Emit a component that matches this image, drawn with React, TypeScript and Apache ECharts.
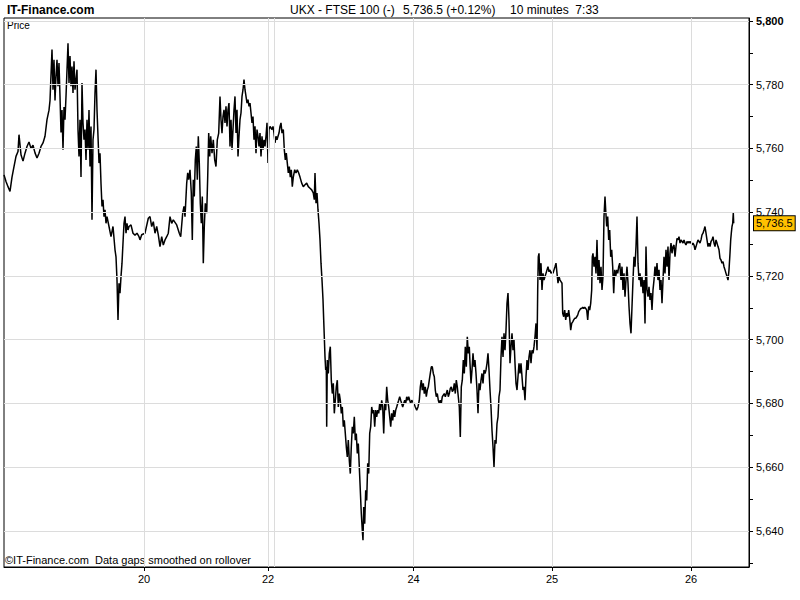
import React, { useEffect, useRef } from 'react';
import * as echarts from 'echarts';

type P = [number, number];

// x = trading time step (one step ≈ one pixel of the source chart), y = FTSE 100 price
const seg19: P[] = [[0,5751.7],[2,5749.6],[4,5748],[6,5746.5],[8,5751],[10,5754.3],[12,5757.5],[14,5759],[15,5764.3],[17,5758],[19,5756],[21,5758.5],[23,5760.6],[25,5762],[27,5760],[29,5761],[31,5758.6],[33,5757],[35,5758.5],[37,5760.6],[39,5761.7],[41,5763.8],[43,5769],[45,5772],[46,5775],[48,5791],[49,5778.4],[50,5787.8],[51,5775],[52,5782.6],[53,5787.8],[54,5779.5],[55,5786.8],[56,5776.3],[57,5765],[58,5772],[59,5759.6],[60,5773],[61,5769],[62,5776.3],[64,5793],[65,5780.5],[66,5789],[67,5779.5],[68,5785.7],[69,5777.4],[70,5787.3],[71,5778.4],[73,5784.7],[74,5765.9],[75,5757.5],[76,5769],[77,5751],[78,5780.5],[79,5768],[80,5762.7],[81,5765.9],[82,5756.4],[83,5769],[84,5759.6],[85,5772],[86,5754.3],[87,5766.9],[88,5737.6],[89,5762.7],[90,5765.9],[91,5777.4],[92,5784.7],[93,5772],[94,5763.8],[95,5755.4],[96,5758.5],[97,5749],[98,5741.8],[99,5743.9],[100,5738.6],[101,5740.7],[102,5736.5],[103,5738.6],[105,5735.5],[107,5732.3],[109,5735.5],[111,5728.2],[112,5726],[113,5718.7],[114,5706.2],[115,5717.7],[116,5714.6],[117,5719.8],[118,5724],[119,5730.3],[120,5736.5],[121,5738.6],[122,5733.4],[123,5736.5],[124,5734.4],[125,5735.5],[127,5736],[129,5733.4],[131,5732.8],[133,5733.4],[135,5732.3],[136,5731.3],[137.7,5732.9]];

const seg20: P[] = [[141,5733.4],[144.3,5738.1],[146,5738.6],[147.7,5735.5],[149.3,5737],[151,5733.4],[152.7,5735.5],[154.3,5732.9],[156,5729.2],[157.7,5732.3],[159.3,5729.7],[161,5731.3],[162.7,5732.3],[164.3,5733.4],[166,5738.6],[167.7,5736.5],[169.3,5737.6],[172.7,5736],[175.3,5733.4],[176.7,5732.3],[178.7,5739.7],[180,5741.8],[181,5738.6],[182.7,5749.1],[183.7,5752.3],[184.7,5750.2],[186,5753.3],[187.3,5746],[188.3,5731.3],[189.3,5750.2],[190.3,5744.9],[191.3,5756.4],[192.3,5760.6],[193.3,5750.2],[194.3,5763.8],[195.3,5755.4],[196.3,5742.8],[197.3,5736.5],[198.3,5744.9],[199.3,5724],[200.3,5735.5],[201.3,5742.8],[202.7,5739.7],[203.7,5751],[204.7,5764.8],[205.7,5757.5],[206.7,5763.8],[208,5758.5],[209.3,5762.7],[210.7,5756.4],[212,5754.3],[213.3,5762.7],[214.7,5764.8],[216,5776.3],[217,5769],[218,5764.8],[219,5770],[220,5772.1],[221,5768],[222,5773.2],[223,5766.9],[224,5772.1],[225,5774.2],[226,5760.6],[227,5769],[228,5759.6],[229,5765.9],[230,5772.1],[231,5776.3],[232,5764.8],[233,5772.1],[234,5757.5],[235,5763.8],[236,5769],[237,5771.1],[238,5776.3],[239,5778.4],[240,5781.6],[241,5778.4],[242,5776.3],[243,5774.2],[244,5775.3],[245,5773.2],[246,5774.2],[247,5771.1],[248,5768],[249,5770],[250,5762.7],[251,5766.9],[252,5758.5],[253,5765.9],[254,5763.8],[255,5760.6],[256,5764.8],[257,5757.5],[258,5763.8],[259,5759.6],[260,5762.7],[261,5760.6],[262,5763.8],[263,5768]];

const seg22: P[] = [[264,5755.4],[265,5765.9],[266,5766.9],[267,5766.4],[268,5765.9],[269,5766.9],[270,5764.8],[271,5761.7],[272,5763.8],[273,5762.7],[274,5763.8],[275,5764.8],[276,5766.9],[277,5768],[278,5764.8],[279.3,5765.9],[280.3,5759.6],[281.3,5756.4],[282.3,5758.5],[283.3,5755.4],[284.3,5752.3],[285.3,5754.3],[286.3,5751],[287.3,5753.3],[288.3,5748],[289.3,5751],[290.7,5753.3],[292,5752.3],[293.3,5753.3],[294.7,5752.3],[296,5751],[297.7,5749.1],[299.3,5748],[301,5748.6],[302.7,5749.1],[304.3,5748],[306,5747.5],[307.7,5747],[309.3,5746],[310.3,5743.9],[311,5752.3],[312,5742.8],[313,5746],[314,5740.7],[315,5736.5],[316,5731.3],[317,5724],[318,5718.7],[319,5712.5],[319.7,5706.2],[320.3,5700.9],[321,5694.6],[321.7,5690.5],[322.3,5691.5],[322.7,5672.7],[323.3,5693.6],[324.3,5689.4],[325.3,5695.7],[326.3,5697.8],[327.3,5687.3],[328.3,5683.1],[329.3,5686.3],[330.3,5676.9],[331.3,5681],[332.3,5685.2],[333.3,5687.3],[334.3,5678.9],[335.3,5683.1],[336.3,5681],[337.3,5676.9],[338.3,5678.9],[339.3,5672.7],[340.3,5674.7],[341.3,5670.6],[342.3,5666.4],[343.3,5663.2],[344.3,5668.5],[345.3,5662.2],[346.3,5658],[347.3,5666.4],[348.3,5672.7],[349.3,5670.6],[350.3,5675.8],[351.3,5668.5],[352.3,5670.6],[353.3,5664.3],[354.3,5667.4],[355.3,5660.1],[356.3,5652.8],[357.3,5645.5],[358.3,5640.2],[359,5637.1],[359.7,5647.5],[360.7,5642.3],[361.7,5652.8],[362.7,5649.6],[363.7,5661.2],[364.7,5658],[365.7,5670.6],[366.7,5672.7],[367.7,5678.9],[368.7,5676.9],[369.7,5677.9],[370.7,5672.7],[371.7,5677.9],[372.7,5675.8],[373.7,5677.9],[374.7,5676.9],[375.7,5680],[376.7,5677.9],[377.7,5681],[378.7,5678.9],[379.7,5670.6],[380.7,5680],[381.7,5677.9],[382.7,5685.2],[383.7,5681],[384.7,5678.9],[385.7,5675.8],[386.7,5672.7],[387.7,5676.9],[388.7,5674.7],[389.7,5677.9],[390.7,5675.8],[391.7,5677.9],[392.7,5678.9],[393.7,5680],[394.7,5681],[395.7,5682.1],[396.7,5681],[397.7,5680],[398.7,5678.9],[399.7,5680],[400.7,5681],[401.7,5680],[402.7,5682.1],[403.7,5681],[404.7,5682.1],[405.7,5681],[406.7,5680],[407.7,5681],[408.7,5680.5]];

const seg24: P[] = [[410,5680],[411.3,5678.9],[412.7,5677.9],[414,5678.9],[415.3,5681],[416.3,5685.2],[417.3,5687.3],[418.3,5684.2],[419.3,5686.3],[420.3,5683.1],[421.3,5685.2],[422.3,5682.1],[423.3,5684.2],[424.3,5685.2],[425.3,5687.3],[426.3,5689.4],[427.3,5691.5],[428.3,5691.5],[429.3,5689.4],[430.3,5688.4],[431.3,5684.2],[432.3,5682.1],[433.3,5683.1],[434.3,5681],[435.3,5680],[436.3,5681],[437.3,5680],[438.3,5682.1],[439.3,5682.6],[440.3,5683.1],[441.3,5682.1],[442.3,5683.1],[443.3,5684.2],[444.3,5682.1],[445.3,5683.1],[446.3,5684.7],[447.3,5685.2],[448.3,5683.7],[449.3,5684.2],[450.3,5686.3],[451.3,5683.1],[452.3,5687.3],[453.3,5685.2],[454.3,5682.1],[455.3,5678.9],[456.3,5669.5],[457.3,5685.2],[458.3,5687.3],[459.3,5693.6],[460.3,5689.4],[461.3,5697.8],[462.3,5691.5],[463.3,5700.9],[464.3,5695.7],[465.3,5697.8],[466,5692.6],[467,5686.3],[468,5690.5],[469,5695.7],[470,5691.5],[471,5693.6],[472,5689.4],[473,5684.2],[474,5676.9],[475,5686.3],[476,5684.2],[477,5687.3],[478,5689.4],[479,5686.3],[480,5690.5],[481,5689.4],[482,5690.5],[483,5692.6],[484,5695.7],[485,5690.5],[486,5684.2],[487,5678.9],[488,5671.6],[489,5666.4],[490,5660.1],[491,5668.5],[492,5667.4],[493,5673.7],[494,5675.8],[495,5682.1],[496,5684.2],[497,5694.6],[498,5700.9],[499,5694.6],[500,5702],[501,5696.7],[502,5703],[503,5711.4],[504,5714.6],[505,5706.2],[506,5692.6],[507,5697.8],[508,5702],[509,5696.7],[510,5699.9],[511,5692.6],[512,5686.3],[513,5684.2],[514,5688.4],[515,5692.6],[516,5689.4],[517,5692.6],[518,5688.4],[519,5684.2],[520,5685.2],[521,5681],[522,5688.4],[523,5693.6],[524,5690.5],[525,5694.6],[526,5696.7],[527,5692.6],[528,5696.7],[529,5695.7],[530,5697.8],[531,5700.9],[532,5705.1],[533,5696.7],[533.7,5715.6],[534.3,5726],[535,5727.1],[536,5718.7],[537,5724],[538,5715.6],[539,5720.8],[540,5718.7],[541,5719.8],[542,5720.8],[543,5721.9],[544,5722.9],[545,5721.3],[546,5721.9],[547,5720.8]];

const seg25: P[] = [[548,5721.3],[549,5720.8],[550,5721.9],[551,5722.9],[552,5724],[553,5720.8],[554,5717.7],[555,5719.8],[556,5718.7],[557,5718.2],[558,5717.7],[558.7,5708.3],[559.7,5707.2],[560.7,5709.3],[561.7,5706.2],[562.7,5708.3],[563.7,5707.2],[564.7,5709.3],[565.7,5706.7],[566.7,5703],[567.7,5705.1],[568.7,5705.6],[569.7,5706.2],[570.7,5706.7],[571.7,5706.7],[572.7,5707.2],[573.7,5707.7],[574.7,5708.8],[575.7,5709.3],[576.7,5709.8],[577.7,5709.8],[578.7,5710.2],[579.7,5709.8],[580.7,5710.2],[581.7,5709.8],[582.7,5709.3],[583.7,5706.2],[584.7,5710.4],[585.7,5709.3],[586.7,5711.4],[587.7,5715.6],[588.3,5726],[589,5727.1],[590,5722.9],[591,5726],[592,5720.8],[593,5731.3],[594,5718.7],[595,5725],[596,5717.7],[597,5722.9],[598,5715.6],[599,5719.8],[600,5738.6],[601,5744.9],[601.7,5740.7],[602.7,5735.5],[603.7,5738.6],[604.7,5731.3],[605.7,5734.4],[606.7,5726],[607.7,5728.2],[608.7,5722.9],[609.7,5714.6],[610.7,5721.9],[611.7,5719.8],[612.7,5721.9],[613.7,5720.8],[614.7,5722.9],[615.7,5724],[616.5,5720.8],[617,5718.7],[618,5722.9],[619,5715.6],[620,5720.8],[621,5713.5],[622,5718.7],[623,5722.9],[624,5717.7],[625,5710.4],[626,5705.1],[627,5702],[628,5710.4],[629,5718.7],[630,5726],[631,5722.9],[632,5729.2],[633,5738.6],[634,5724],[635,5718.7],[636,5720.8],[637,5716.6],[638,5719.8],[639,5714.6],[640,5718.7],[641,5705.1],[642,5729.2],[643,5715.6],[644,5713.5],[645,5716.6],[646,5712.5],[647,5714.6],[648,5709.3],[649,5715.6],[650,5718.7],[651,5722.9],[652,5719.8],[653,5724],[654,5718.7],[655,5721.9],[656,5715.6],[657,5718.7],[658,5711.4],[659,5718.7],[660,5726],[661,5720.8],[662,5728.2],[663,5722.9],[664,5729.2],[665,5718.7],[666,5727.1],[667,5730.3],[668,5727.1],[669,5729.2],[670,5729.7],[671,5726],[672,5729.2],[673,5731.8],[674,5731.3],[675,5732.3],[676,5730.3],[677,5731.3],[678,5730.8],[679,5730.3],[680,5731.3],[681,5730.3],[682,5729.7],[683,5730.8],[684,5730.3],[685,5730.8],[686,5730.3]];

const seg26: P[] = [[687,5730.8],[688,5729.7],[689,5730.3],[690,5729.7],[691,5728.2],[692,5729.2],[693,5730.3],[694,5731.3],[695,5730.8],[696,5730.3],[697,5731.3],[698,5732.9],[699,5733.4],[700,5734.4],[701,5735.5],[702,5733.4],[703,5731.3],[704,5729.2],[705,5730.3],[706,5729.2],[707,5730.8],[708,5731.3],[709,5732.3],[710,5730.3],[711,5729.2],[712,5731.3],[713,5730.3],[714,5729.2],[715,5728.2],[716,5725.5],[717,5725],[718,5724],[719,5724.5],[720,5722.9],[721,5721.9],[722,5720.8],[723,5719.8],[724,5718.7],[725,5721.9],[726,5727.1],[726.7,5731.3],[727.3,5733.4],[728,5735.5],[728.7,5736.5],[729.3,5739.7],[729.7,5736.5]];

// axis ticks and labels
const dayTickSteps = [140, 264, 409.5, 548, 687];
const dayLabels = ['20', '22', '24', '25', '26'];
const sessionLineSteps = [140, 264, 270, 409.5, 548, 687];
const priceLabelValues = [5640, 5660, 5680, 5700, 5720, 5740, 5760, 5780, 5800];
const priceTickValues = [5630, 5640, 5650, 5660, 5670, 5680, 5690, 5700, 5710, 5720, 5730, 5740, 5750, 5760, 5770, 5780, 5790, 5800];
const stepRange = [0, 745];
const priceRange = [5628.7, 5800.9];

const lastPrice = 5736.5;
const changePct = 0.12;
const symbolText = 'UKX - FTSE 100 (-)';
const periodText = '10 minutes  7:33';

const FONT = '"Liberation Sans", Arial, sans-serif';
const fmt = (v: number, d = 0) =>
  v.toLocaleString('en-US', { minimumFractionDigits: d, maximumFractionDigits: d });

export default function App() {
  const ref = useRef<HTMLDivElement>(null);

  useEffect(() => {
    if (!ref.current) return;
    const chart = echarts.init(ref.current, null, { renderer: 'svg' });
    const data = [...seg19, ...seg20, ...seg22, ...seg24, ...seg25, ...seg26];

    chart.setOption({
      animation: false,
      backgroundColor: '#ffffff',
      grid: {
        left: 4,
        right: 51,
        top: 18,
        bottom: 33,
        show: true,
        borderColor: '#000',
        borderWidth: 1,
        backgroundColor: 'transparent',
      },
      xAxis: {
        type: 'value',
        min: stepRange[0],
        max: stepRange[1],
        axisLine: { show: true, onZero: false, lineStyle: { color: '#000', width: 1 } },
        axisTick: { show: true, customValues: dayTickSteps, length: 4, lineStyle: { color: '#000' } },
        axisLabel: {
          customValues: dayTickSteps,
          formatter: (v: number) => {
            const i = dayTickSteps.indexOf(v);
            return i >= 0 ? dayLabels[i] : '';
          },
          fontSize: 11,
          fontFamily: FONT,
          color: '#000',
          margin: 6,
        },
        splitLine: { show: false },
      },
      yAxis: {
        type: 'value',
        position: 'right',
        min: priceRange[0],
        max: priceRange[1],
        axisLine: { show: true, onZero: false, lineStyle: { color: '#000', width: 1 } },
        axisTick: { show: true, customValues: priceTickValues, length: 4, lineStyle: { color: '#000' } },
        axisLabel: {
          customValues: priceLabelValues,
          formatter: (v: number) => (v === 5800 ? '{b|' + fmt(v) + '}' : '{n|' + fmt(v) + '}'),
          margin: 7,
          rich: {
            b: { fontSize: 11, fontFamily: FONT, fontWeight: 'bold', color: '#000' },
            n: { fontSize: 11, fontFamily: FONT, color: '#000' },
          },
        },
        splitLine: { show: false },
      },
      graphic: [
        {
          type: 'text',
          x: 7,
          y: 10,
          style: { text: 'IT-Finance.com', font: `bold 12px ${FONT}`, fill: '#000', verticalAlign: 'middle' },
        },
        {
          type: 'text',
          x: 290,
          y: 10,
          style: { text: symbolText, font: `12px ${FONT}`, fill: '#000', verticalAlign: 'middle' },
        },
        {
          type: 'text',
          x: 403,
          y: 10,
          style: {
            text: `${fmt(lastPrice, 1)} (+${changePct.toFixed(2)}%)`,
            font: `12px ${FONT}`,
            fill: '#000',
            verticalAlign: 'middle',
          },
        },
        {
          type: 'text',
          x: 510,
          y: 10,
          style: { text: periodText, font: `12px ${FONT}`, fill: '#000', verticalAlign: 'middle' },
        },
        {
          type: 'text',
          x: 7,
          y: 25,
          style: { text: 'Price', font: `10px ${FONT}`, fill: '#000', verticalAlign: 'middle' },
        },
        {
          type: 'text',
          x: 5,
          y: 560,
          style: {
            text: '©IT-Finance.com  Data gaps smoothed on rollover',
            font: `11px ${FONT}`,
            fill: '#000',
            verticalAlign: 'middle',
          },
        },
      ],
      series: [
        {
          type: 'line',
          data: [[stepRange[0], priceRange[0]]],
          showSymbol: false,
          symbol: 'none',
          silent: true,
          lineStyle: { opacity: 0 },
          markLine: {
            silent: true,
            symbol: ['none', 'none'],
            label: { show: false },
            lineStyle: { color: '#dcdcdc', width: 1, type: 'solid' },
            emphasis: { disabled: true },
            data: [
              ...sessionLineSteps.map((x) => ({ xAxis: x })),
              ...priceLabelValues.map((y) => ({ yAxis: y })),
            ],
          },
        },
        {
          type: 'line',
          data,
          showSymbol: false,
          symbol: 'none',
          silent: true,
          lineStyle: { color: '#000', width: 1.5 },
          markLine: {
            silent: true,
            symbol: ['none', 'none'],
            lineStyle: { color: 'rgba(0,0,0,0)', width: 1, type: 'solid' },
            emphasis: { disabled: true },
            label: {
              show: true,
              position: 'end',
              distance: 5,
              formatter: fmt(lastPrice, 1),
              fontSize: 11,
              fontFamily: FONT,
              color: '#000',
              backgroundColor: '#FFC000',
              borderColor: '#000',
              borderWidth: 1,
              padding: [2, 2, 1, 2],
            },
            data: [{ yAxis: lastPrice }],
          },
        },
      ],
    });

    return () => chart.dispose();
  }, []);

  return (
    <div
      ref={ref}
      style={{ position: 'fixed', left: 0, top: 0, width: 800, height: 600, background: '#fff' }}
    />
  );
}
